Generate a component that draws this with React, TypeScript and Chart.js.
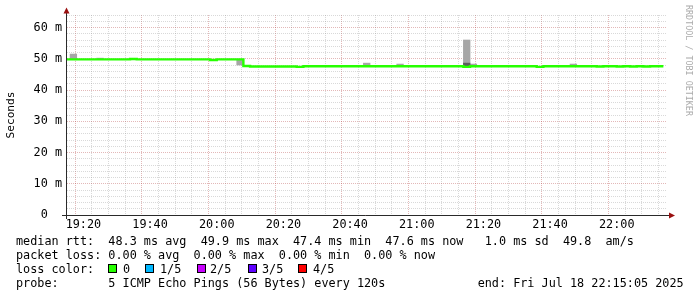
import React, { useEffect, useRef } from "react";
import { Chart, registerables } from "chart.js";

Chart.register(...registerables);

// ---- time range ----
const rangeStart = "19:15:05";
const rangeEnd = "22:15:05";
const firstStepStart = "19:14:00";
const stepSeconds = 120;
const minorGridSeconds = 300;

// ---- tick labels ----
const xTickLabels = ["19:20", "19:40", "20:00", "20:20", "20:40", "21:00", "21:20", "21:40", "22:00"];
const yTickValues = [0, 10, 20, 30, 40, 50, 60];
const yTickLabels = ["0  ", "10 m", "20 m", "30 m", "40 m", "50 m", "60 m"];
const yMax = 64;
const yMinorStep = 2;

// ---- median rtt per 2-minute step (ms) ----
const medianRtt = [
  49.8, 49.8, 49.8, 49.8, 49.8, 49.8, 49.8, 49.8, 49.8, 49.8,
  49.9, 49.8, 49.8, 49.8, 49.8, 49.8, 49.8, 49.8, 49.8, 49.8,
  49.8, 49.8, 49.6, 49.8, 49.8, 49.8, 49.8, 47.7, 47.5, 47.5,
  47.5, 47.5, 47.5, 47.5, 47.5, 47.4, 47.6, 47.6, 47.6, 47.6,
  47.6, 47.6, 47.6, 47.6, 47.6, 47.6, 47.6, 47.6, 47.6, 47.6,
  47.6, 47.6, 47.6, 47.6, 47.6, 47.6, 47.6, 47.6, 47.6, 47.6,
  47.4, 47.6, 47.6, 47.6, 47.6, 47.6, 47.6, 47.6, 47.6, 47.6,
  47.6, 47.4, 47.6, 47.6, 47.6, 47.6, 47.6, 47.6, 47.6, 47.6,
  47.5, 47.6, 47.6, 47.5, 47.6, 47.5, 47.6, 47.5, 47.6, 47.6,
];

// ---- smoke (ping spread) for the steps where it is visible ----
const smokeSteps = [1, 5, 26, 45, 50, 60, 61, 76];
const smokeLow = [49.8, 49.8, 48.0, 47.6, 47.6, 48.6, 47.6, 47.6];
const smokeHigh = [51.5, 50.2, 49.8, 48.6, 48.3, 56.0, 48.3, 48.3];
const coreSteps = [60];
const coreLow = [47.6];
const coreHigh = [48.6];

// ---- legend text ----
const statLine1 = "median rtt:  48.3 ms avg  49.9 ms max  47.4 ms min  47.6 ms now   1.0 ms sd  49.8  am/s";
const statLine2 = "packet loss: 0.00 % avg  0.00 % max  0.00 % min  0.00 % now";
const lossTitle = "loss color:";
const lossLabels = ["0", "1/5", "2/5", "3/5", "4/5"];
const lossColors = ["#26ff00", "#00b8ff", "#c800ff", "#5e00ff", "#ff0000"];
const probeLine = "probe:       5 ICMP Echo Pings (56 Bytes) every 120s             end: Fri Jul 18 22:15:05 2025";
const yAxisTitle = "Seconds";
const watermark = "RRDTOOL / TOBI OETIKER";

// ---- styles ----
const MONO = "'DejaVu Sans Mono', monospace";
const FONT_SIZE = 11.8;
const MINOR_GRID = "rgba(140,140,140,0.33)";
const MAJOR_GRID = "rgba(170,40,40,0.33)";
const AXIS_COLOR = "#2a2a2a";
const ARROW_COLOR = "#9a1010";
const SMOKE_LIGHT = "#a6a6a6";
const SMOKE_DARK = "#5c5c5c";
const lossBoxX = [108, 145, 197, 248, 298];
const lossLabelX = [123, 160, 210, 262, 313];

function toSec(s: string): number {
  const [h, m, sec] = s.split(":").map(Number);
  return h * 3600 + m * 60 + (sec || 0);
}
function fmt(v: number): string {
  const h = Math.floor(v / 3600);
  const m = Math.floor((v % 3600) / 60);
  return String(h).padStart(2, "0") + ":" + String(m).padStart(2, "0");
}

const axesPlugin = {
  id: "rrdAxes",
  afterDraw(chart: any) {
    const { ctx, chartArea } = chart;
    const { left, right, top, bottom } = chartArea;
    ctx.save();
    ctx.strokeStyle = AXIS_COLOR;
    ctx.lineWidth = 1;
    ctx.beginPath();
    ctx.moveTo(left - 5, bottom + 0.5);
    ctx.lineTo(right + 2, bottom + 0.5);
    ctx.moveTo(left - 0.5, bottom + 4);
    ctx.lineTo(left - 0.5, top - 2);
    ctx.stroke();
    ctx.fillStyle = ARROW_COLOR;
    ctx.beginPath();
    ctx.moveTo(right + 2, bottom - 2.5);
    ctx.lineTo(right + 8, bottom + 0.5);
    ctx.lineTo(right + 2, bottom + 3.5);
    ctx.closePath();
    ctx.fill();
    ctx.beginPath();
    ctx.moveTo(left - 3.5, top - 1.5);
    ctx.lineTo(left - 0.5, top - 7.5);
    ctx.lineTo(left + 2.5, top - 1.5);
    ctx.closePath();
    ctx.fill();
    ctx.restore();
  },
};

export default function App() {
  const canvasRef = useRef<HTMLCanvasElement>(null);

  useEffect(() => {
    const t0 = toSec(firstStepStart);
    const xMin = toSec(rangeStart);
    const xMax = toSec(rangeEnd);
    const majorSet = new Set(xTickLabels.map((l) => toSec(l)));

    const lineData = [{ x: t0, y: medianRtt[0] }].concat(
      medianRtt.map((v, i) => ({ x: t0 + (i + 1) * stepSeconds, y: v }))
    );
    const smokeData = smokeSteps.map((k, i) => ({
      x: t0 + k * stepSeconds + stepSeconds / 2,
      y: [smokeLow[i], smokeHigh[i]],
    }));
    const coreData = coreSteps.map((k, i) => ({
      x: t0 + k * stepSeconds + stepSeconds / 2,
      y: [coreLow[i], coreHigh[i]],
    }));

    const chart = new Chart(canvasRef.current as HTMLCanvasElement, {
      type: "bar",
      data: {
        datasets: [
          {
            type: "line",
            data: lineData as any,
            borderColor: lossColors[0],
            borderWidth: 2.4,
            pointRadius: 0,
            stepped: "after",
            fill: false,
            clip: 0,
            order: 0,
          } as any,
          {
            type: "bar",
            data: coreData as any,
            backgroundColor: SMOKE_DARK,
            borderWidth: 0,
            grouped: false,
            barPercentage: 1,
            categoryPercentage: 1,
            clip: 0,
            order: 1,
          } as any,
          {
            type: "bar",
            data: smokeData as any,
            backgroundColor: SMOKE_LIGHT,
            borderWidth: 0,
            grouped: false,
            barPercentage: 1,
            categoryPercentage: 1,
            clip: 0,
            order: 2,
          } as any,
        ],
      },
      options: {
        responsive: false,
        animation: false,
        devicePixelRatio: 1,
        events: [],
        layout: { padding: { top: 15, right: 30, left: 0, bottom: 0 } },
        plugins: { legend: { display: false }, tooltip: { enabled: false } },
        scales: {
          x: {
            type: "linear",
            min: xMin,
            max: xMax,
            stacked: false,
            offset: false,
            afterFit: (s: any) => {
              s.height = 82;
            },
            afterBuildTicks: (s: any) => {
              const ticks = [];
              const first = Math.ceil(xMin / minorGridSeconds) * minorGridSeconds;
              for (let v = first; v <= xMax; v += minorGridSeconds) ticks.push({ value: v });
              s.ticks = ticks;
            },
            grid: {
              drawTicks: false,
              lineWidth: 1,
              color: (c: any) => (c.tick && majorSet.has(c.tick.value) ? MAJOR_GRID : MINOR_GRID),
            },
            border: { display: false, dash: [1, 1] },
            ticks: {
              autoSkip: false,
              maxRotation: 0,
              minRotation: 0,
              padding: 3,
              color: "#000",
              font: { family: MONO, size: FONT_SIZE },
              callback: (v: any) => {
                const label = fmt(Number(v));
                return majorSet.has(Number(v)) && xTickLabels.includes(label) ? label : "";
              },
            },
          },
          y: {
            type: "linear",
            min: 0,
            max: yMax,
            stacked: false,
            afterFit: (s: any) => {
              s.width = 67;
            },
            title: {
              display: true,
              text: yAxisTitle,
              color: "#000",
              font: { family: MONO, size: 11.2 },
              padding: { top: 4, bottom: 4 },
            },
            grid: {
              drawTicks: false,
              lineWidth: 1,
              color: (c: any) => (c.tick && yTickValues.includes(c.tick.value) ? MAJOR_GRID : MINOR_GRID),
            },
            border: { display: false, dash: [1, 1] },
            ticks: {
              stepSize: yMinorStep,
              autoSkip: false,
              padding: 5,
              color: "#000",
              font: { family: MONO, size: FONT_SIZE },
              callback: (v: any) => {
                const i = yTickValues.indexOf(Number(v));
                return i >= 0 ? yTickLabels[i] : "";
              },
            },
          },
        },
      } as any,
      plugins: [axesPlugin],
    });
    return () => chart.destroy();
  }, []);

  const rowStyle = (top: number): React.CSSProperties => ({
    position: "absolute",
    left: 16,
    top,
    margin: 0,
    whiteSpace: "pre",
    fontFamily: MONO,
    fontSize: FONT_SIZE,
    lineHeight: "14px",
    color: "#000",
  });

  return (
    <div
      style={{
        position: "fixed",
        left: 0,
        top: 0,
        width: 697,
        height: 297,
        background: "#fff",
        overflow: "hidden",
      }}
    >
      <canvas ref={canvasRef} width={697} height={297} style={{ display: "block", position: "absolute", left: 0, top: 0 }} />
      <div
        style={{
          position: "absolute",
          left: 684,
          top: 5,
          writingMode: "vertical-rl",
          fontFamily: MONO,
          fontSize: 8.4,
          lineHeight: "9px",
          color: "#ababab",
          whiteSpace: "nowrap",
        }}
      >
        {watermark}
      </div>
      <div style={rowStyle(234)}>{statLine1}</div>
      <div style={rowStyle(248)}>{statLine2}</div>
      <div style={rowStyle(262)}>{lossTitle}</div>
      {lossLabels.map((l, i) => (
        <React.Fragment key={l}>
          <div
            style={{
              position: "absolute",
              left: lossBoxX[i],
              top: 264,
              width: 9,
              height: 9,
              boxSizing: "border-box",
              border: "1px solid #000",
              background: lossColors[i],
            }}
          />
          <div style={{ ...rowStyle(262), left: lossLabelX[i] }}>{l}</div>
        </React.Fragment>
      ))}
      <div style={rowStyle(276)}>{probeLine}</div>
    </div>
  );
}
